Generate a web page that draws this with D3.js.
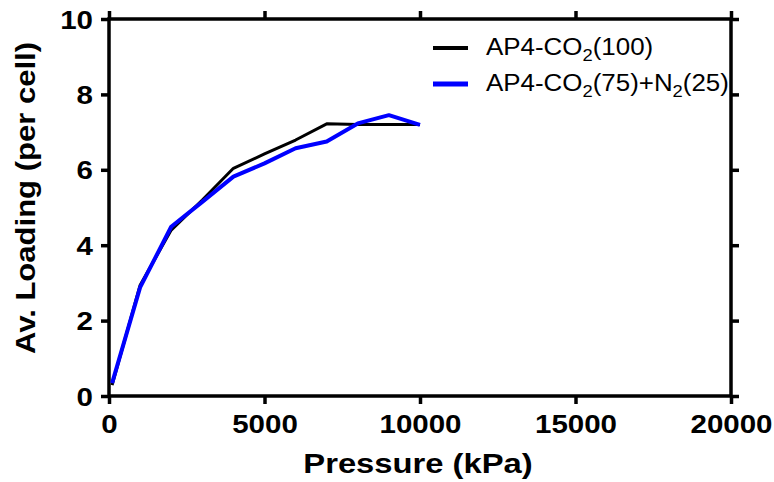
<!DOCTYPE html>
<html>
<head>
<meta charset="utf-8">
<script src="https://cdn.jsdelivr.net/npm/d3@7"></script>
<style>
  html, body { margin: 0; padding: 0; background: #ffffff; }
  svg { display: block; }
  text { font-family: "Liberation Sans", Arial, sans-serif; fill: #000; }
</style>
</head>
<body>
<svg id="chart" width="774" height="482"></svg>
<script>
// ---- Data ----
const pressure = [100, 1000, 2000, 3000, 4000, 5000, 6000, 7000, 8000, 9000, 10000];
const loadingCO2 = [0.29, 2.94, 4.40, 5.20, 6.04, 6.42, 6.79, 7.22, 7.20, 7.20, 7.20];
const loadingMix = [0.34, 2.88, 4.49, 5.15, 5.82, 6.17, 6.57, 6.75, 7.23, 7.45, 7.19];
const xTicks = [0, 5000, 10000, 15000, 20000];
const yTicks = [0, 2, 4, 6, 8, 10];
const seriesNames = ["AP4-CO2(100)", "AP4-CO2(75)+N2(25)"];
const seriesColors = ["#000000", "#0000ff"];
const xTitle = "Pressure (kPa)";
const yTitle = "Av. Loading (per cell)";

// ---- Layout ----
const svg = d3.select("#chart");
const mLeft = 109, mRight = 731, mTop = 19, mBottom = 396;
const x = d3.scaleLinear().domain([0, 20000]).range([mLeft, mRight]);
const y = d3.scaleLinear().domain([0, 10]).range([mBottom, mTop]);

const axisW = 3.5, tickLen = 8;

function styleAxis(g) {
  g.select(".domain").remove();
  g.selectAll(".tick line").attr("stroke", "#000").attr("stroke-width", axisW);
}

// bottom axis
const gx = svg.append("g").attr("transform", `translate(0,${mBottom})`)
  .call(d3.axisBottom(x).tickValues(xTicks).tickSize(tickLen).tickFormat(d3.format("d")));
styleAxis(gx);
gx.selectAll(".tick text")
  .attr("y", 0).attr("dy", 0)
  .attr("transform", "translate(0,37) scale(1.18,1)")
  .style("font-size", "25px").style("font-weight", "bold");

// left axis
const gy = svg.append("g").attr("transform", `translate(${mLeft},0)`)
  .call(d3.axisLeft(y).tickValues(yTicks).tickSize(tickLen).tickFormat(d3.format("d")));
styleAxis(gy);
gy.selectAll(".tick text")
  .attr("x", 0).attr("dy", 0).attr("text-anchor", "end")
  .attr("transform", "translate(-16,9) scale(1.18,1)")
  .style("font-size", "25px").style("font-weight", "bold");

// top axis
const gt = svg.append("g").attr("transform", `translate(0,${mTop})`)
  .call(d3.axisTop(x).tickValues(xTicks).tickSize(tickLen).tickFormat(""));
styleAxis(gt);
// right axis
const gr = svg.append("g").attr("transform", `translate(${mRight},0)`)
  .call(d3.axisRight(y).tickValues(yTicks).tickSize(tickLen).tickFormat(""));
styleAxis(gr);

// frame
svg.append("rect")
  .attr("x", mLeft).attr("y", mTop)
  .attr("width", mRight - mLeft).attr("height", mBottom - mTop)
  .attr("fill", "none").attr("stroke", "#000").attr("stroke-width", axisW);

// ---- Lines ----
const line = d3.line().x((d, i) => x(pressure[i])).y(d => y(d));
svg.append("path").datum(loadingCO2)
  .attr("d", line).attr("fill", "none")
  .attr("stroke", seriesColors[0]).attr("stroke-width", 3).attr("stroke-linejoin", "round");
svg.append("path").datum(loadingMix)
  .attr("d", line).attr("fill", "none")
  .attr("stroke", seriesColors[1]).attr("stroke-width", 4).attr("stroke-linejoin", "round");

// ---- Axis titles ----
svg.append("text")
  .attr("text-anchor", "middle")
  .attr("transform", `translate(${(mLeft + mRight) / 2 - 2},473) scale(1.17,1)`)
  .style("font-size", "28px").style("font-weight", "bold")
  .text(xTitle);

svg.append("text")
  .attr("text-anchor", "middle")
  .attr("transform", `translate(35,198) rotate(-90) scale(1.15,1)`)
  .style("font-size", "27px").style("font-weight", "bold")
  .text(yTitle);

// ---- Legend ----
const legendY = [48, 84];
const legend = svg.append("g");
seriesNames.forEach((name, i) => {
  legend.append("line")
    .attr("x1", 433).attr("x2", 468)
    .attr("y1", legendY[i]).attr("y2", legendY[i])
    .attr("stroke", seriesColors[i]).attr("stroke-width", i === 0 ? 4 : 5);
  const t = legend.append("text")
    .attr("transform", `translate(486,${legendY[i] + 7}) scale(1.08,1)`)
    .style("font-size", "24px");
  const re = /(CO|N)(2)/g;
  let last = 0, m, shift = 0;
  while ((m = re.exec(name)) !== null) {
    t.append("tspan").attr("dy", shift).text(name.slice(last, m.index + m[1].length));
    t.append("tspan").attr("dy", 6).style("font-size", "17px").text(m[2]);
    shift = -6;
    last = m.index + m[0].length;
  }
  t.append("tspan").attr("dy", shift).text(name.slice(last));
});
</script>
</body>
</html>
